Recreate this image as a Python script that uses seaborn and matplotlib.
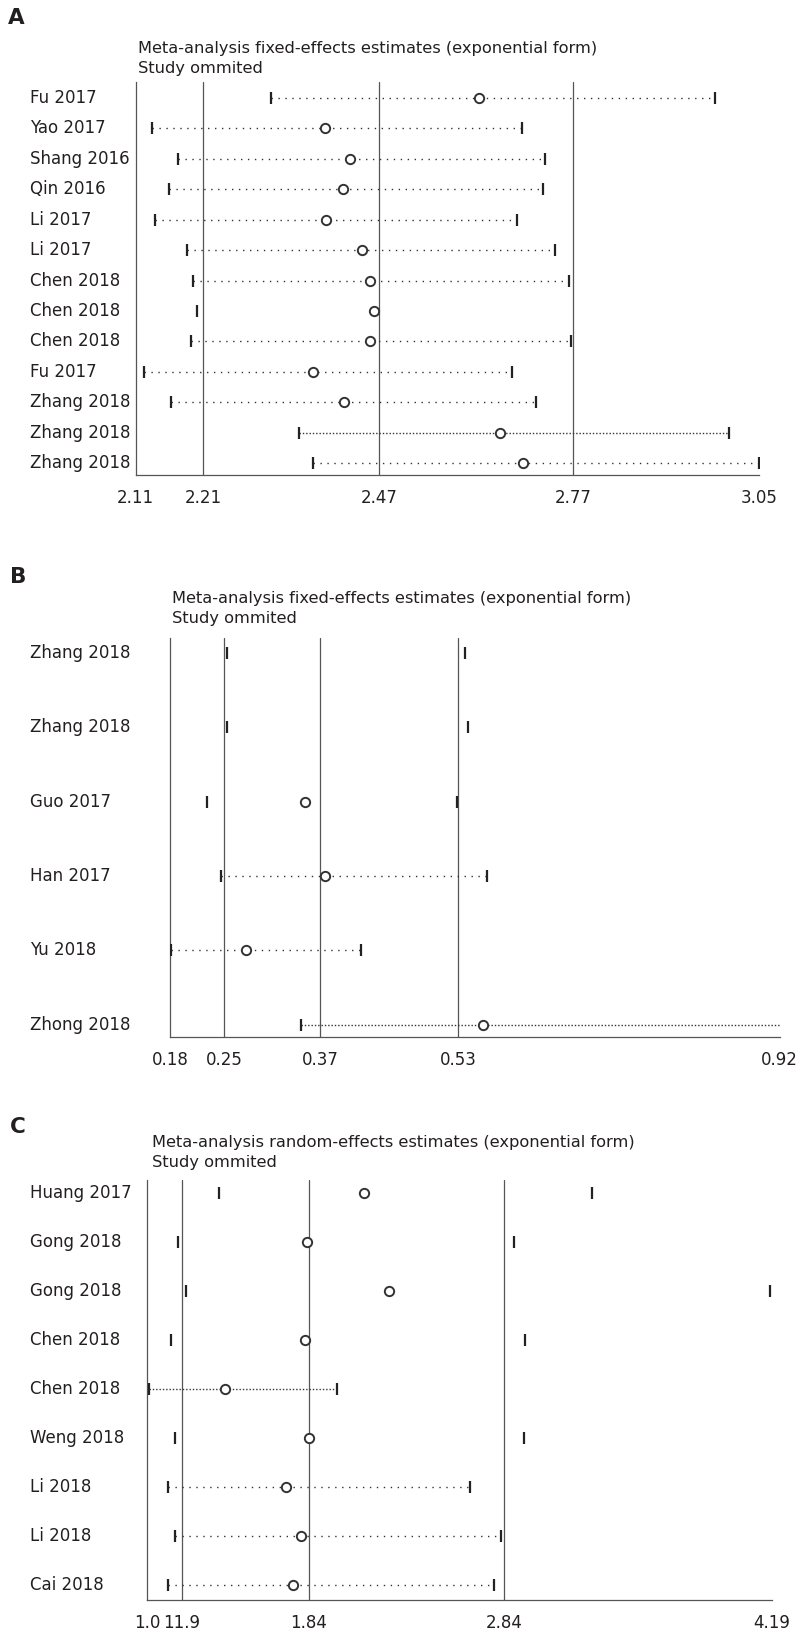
import matplotlib as mpl
mpl.use("Agg")
import matplotlib.pyplot as plt
import matplotlib.transforms as mtrans
import numpy as np
import pandas as pd
import seaborn as sns

# ---- panel A: fixed effects, study omitted ----
studies_a = ["Fu 2017", "Yao 2017", "Shang 2016", "Qin 2016", "Li 2017", "Li 2017",
             "Chen 2018", "Chen 2018", "Chen 2018", "Fu 2017", "Zhang 2018",
             "Zhang 2018", "Zhang 2018"]
est_a = [2.628, 2.396, 2.433, 2.423, 2.397, 2.451, 2.463, 2.470, 2.463, 2.377, 2.424, 2.660, 2.694]
lo_a = [2.314, 2.134, 2.174, 2.160, 2.139, 2.188, 2.196, 2.203, 2.193, 2.122, 2.163, 2.356, 2.378]
hi_a = [2.984, 2.692, 2.728, 2.725, 2.685, 2.743, 2.763, np.nan, 2.766, 2.677, 2.714, 3.005, 3.050]
ref_a = [2.212, 2.477, 2.770]
ticks_a = [2.11, 2.212, 2.477, 2.770, 3.05]
ticklabels_a = ["2.11", "2.21", "2.47", "2.77", "3.05"]
title_a = "Meta-analysis fixed-effects estimates (exponential form)"

# ---- panel B ----
studies_b = ["Zhang 2018", "Zhang 2018", "Guo 2017", "Han 2017", "Yu 2018", "Zhong 2018"]
est_b = [np.nan, np.nan, 0.344, 0.368, 0.272, 0.560]
lo_b = [0.249, 0.249, 0.225, 0.242, 0.181, 0.339]
hi_b = [0.538, 0.542, 0.528, 0.565, 0.412, 0.926]
ref_b = [0.246, 0.362, 0.530]
ticks_b = [0.18, 0.246, 0.362, 0.530, 0.92]
ticklabels_b = ["0.18", "0.25", "0.37", "0.53", "0.92"]
title_b = "Meta-analysis fixed-effects estimates (exponential form)"

# ---- panel C: random effects ----
studies_c = ["Huang 2017", "Gong 2018", "Gong 2018", "Chen 2018", "Chen 2018",
             "Weng 2018", "Li 2018", "Li 2018", "Cai 2018"]
est_c = [2.110, 1.819, 2.234, 1.808, 1.400, 1.826, 1.712, 1.785, 1.746]
lo_c = [1.367, 1.156, 1.200, 1.122, 1.008, 1.141, 1.107, 1.141, 1.107]
hi_c = [3.271, 2.873, 4.180, 2.930, 1.972, 2.923, 2.647, 2.809, 2.772]
ref_c = [1.177, 1.827, 2.824]
ticks_c = [1.0, 1.177, 1.827, 2.824, 4.19]
ticklabels_c = ["1.0", "11.9", "1.84", "2.84", "4.19"]
title_c = "Meta-analysis random-effects estimates (exponential form)"

subtitle = "Study ommited"

# styles (line pattern between the CI ends)
SPARSE = (0, (1, 4))
DENSE = (0, (1, 1.4))
style_a = [SPARSE] * 7 + [None] + [SPARSE] * 3 + [DENSE, SPARSE]
style_b = [None, None, None, SPARSE, SPARSE, DENSE]
style_c = [None, None, None, None, DENSE, None, SPARSE, SPARSE, SPARSE]

W, H = 797, 1629
FONT = "DejaVu Sans"
TXT = "#231f20"
GREY = "#555555"

sns.set_style("white")
plt.rcParams["font.family"] = [FONT]

fig = plt.figure(figsize=(W / 100, H / 100), dpi=100)


def px_axes(left, right, top, bottom):
    return fig.add_axes([left / W, 1 - bottom / H, (right - left) / W, (bottom - top) / H])


def draw_panel(ax, studies, est, lo, hi, styles, refs, ticks, ticklabels, xlim, ypad,
               letter, letter_xy, title, title_xy, label_x):
    n = len(studies)
    df = pd.DataFrame({"study": studies, "row": np.arange(1, n + 1),
                       "est": est, "lo": lo, "hi": hi})

    for xv in refs:
        ax.axvline(xv, color=GREY, lw=0.9, zorder=1)

    for (_, r), ls in zip(df.iterrows(), styles):
        if ls is not None and np.isfinite(r.lo) and np.isfinite(r.hi):
            ax.hlines(r.row, r.lo, r.hi, colors="#333333", lw=1.0, linestyles=[ls], zorder=2)

    ends = pd.concat([df[["row", "lo"]].rename(columns={"lo": "x"}),
                      df[["row", "hi"]].rename(columns={"hi": "x"})]).dropna()
    sns.scatterplot(data=ends, x="x", y="row", marker="|", s=70, linewidth=1.6,
                    color="#222222", ax=ax, zorder=3, legend=False)
    sns.scatterplot(data=df.dropna(subset=["est"]), x="est", y="row", marker="o", s=45,
                    facecolor="white", edgecolor="#333333", linewidth=1.4,
                    ax=ax, zorder=4, legend=False)

    ax.set_xlim(*xlim)
    ax.set_ylim(n + ypad[1], 1 - ypad[0])
    ax.set_xticks(ticks)
    ax.set_xticklabels(ticklabels, fontsize=12, color=TXT)
    ax.tick_params(axis="x", direction="out", length=4, width=0.9, color=GREY, pad=6)
    ax.set_yticks([])
    ax.set_xlabel("")
    ax.set_ylabel("")
    for s in ["top", "right"]:
        ax.spines[s].set_visible(False)
    for s in ["left", "bottom"]:
        ax.spines[s].set_color(GREY)
        ax.spines[s].set_linewidth(0.9)

    trans = mtrans.blended_transform_factory(fig.transFigure, ax.transData)
    for _, r in df.iterrows():
        ax.text(label_x / W, r.row, r.study, transform=trans, ha="left", va="center",
                fontsize=12, color=TXT)

    fig.text(letter_xy[0] / W, 1 - letter_xy[1] / H, letter, fontsize=15.5,
             fontweight="bold", color=TXT, ha="left", va="center")
    fig.text(title_xy[0] / W, 1 - title_xy[1] / H, title, fontsize=11.7,
             color=TXT, ha="left", va="center")
    fig.text(title_xy[0] / W, 1 - (title_xy[1] + 21) / H, subtitle, fontsize=11.7,
             color=TXT, ha="left", va="center")


ax_a = px_axes(135.6, 759, 82, 475)
draw_panel(ax_a, studies_a, est_a, lo_a, hi_a, style_a, ref_a, ticks_a, ticklabels_a,
           (2.11, 3.05), (16 / 30.4, 12 / 30.4), "A", (8, 18), title_a, (138, 48), 30)

ax_b = px_axes(170, 779.6, 638, 1037)
draw_panel(ax_b, studies_b, est_b, lo_b, hi_b, style_b, ref_b, ticks_b, ticklabels_b,
           (0.18, 0.92), (15 / 74.3, 12.5 / 74.3), "B", (10, 577), title_b, (172, 598), 30)

ax_c = px_axes(147, 772, 1180, 1600)
draw_panel(ax_c, studies_c, est_c, lo_c, hi_c, style_c, ref_c, ticks_c, ticklabels_c,
           (1.0, 4.19), (13 / 49, 15 / 49), "C", (10, 1127), title_c, (152, 1142), 30)

fig.savefig("out.png", dpi=100, facecolor="white")
